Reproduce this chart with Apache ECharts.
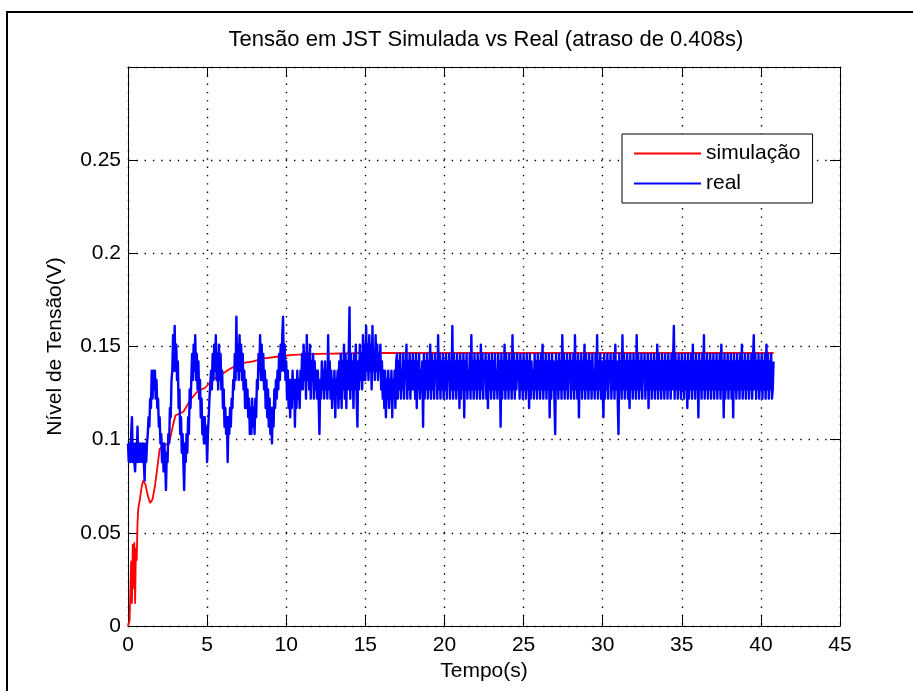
<!DOCTYPE html>
<html>
<head>
<meta charset="utf-8">
<script src="https://cdn.jsdelivr.net/npm/echarts@6/dist/echarts.min.js"></script>
<style>
html,body{margin:0;padding:0;background:#fff;}
#chart{width:913px;height:691px;}
</style>
</head>
<body>
<div id="chart"></div>
<script>
// ---------------- data ----------------
var titleText = 'Tensão em JST Simulada vs Real (atraso de 0.408s)';
var xName = 'Tempo(s)';
var yName = 'Nível de Tensão(V)';
var seriesNames = ['simulação', 'real'];

// simulated response (time in s, value in V)
var simTime = [0, 0.1, 0.2, 0.25, 0.3, 0.35, 0.4, 0.45, 0.5, 0.55, 0.6, 0.65, 0.75, 0.85, 0.95, 1.1, 1.25, 1.4, 1.55, 1.7, 1.9, 2.0, 2.3, 2.6, 2.85, 3.0, 3.5, 4.0, 4.4, 4.9, 5.3, 5.9, 6.45, 7.1, 7.9, 8.5, 9.4, 10.4, 12.1, 15, 20, 30, 40.8];
var simValues = [0, 0.003, 0.035, 0.012, 0.044, 0.02, 0.045, 0.012, 0.042, 0.035, 0.055, 0.063, 0.068, 0.074, 0.078, 0.076, 0.07, 0.066, 0.068, 0.075, 0.088, 0.095, 0.097, 0.098, 0.108, 0.113, 0.115, 0.122, 0.126, 0.128, 0.132, 0.135, 0.138, 0.141, 0.142, 0.1435, 0.1445, 0.1455, 0.146, 0.1465, 0.1465, 0.1465, 0.1465];

// measured signal, one sample every realStep seconds starting at 0 (one row per second)
var realStep = 0.05;
var realValues = [
0.098,0.088,0.098,0.088,0.103,0.112,0.088,0.098,0.088,0.083,0.098,0.088,0.107,0.088,0.098,0.088,0.098,0.093,0.088,0.098,
0.088,0.078,0.098,0.088,0.098,0.103,0.112,0.107,0.122,0.117,0.137,0.122,0.137,0.127,0.137,0.122,0.132,0.117,0.122,0.107,
0.112,0.098,0.103,0.088,0.098,0.083,0.098,0.088,0.073,0.093,0.088,0.103,0.098,0.117,0.112,0.132,0.137,0.156,0.137,0.161,
0.137,0.151,0.132,0.142,0.117,0.127,0.103,0.112,0.093,0.103,0.088,0.073,0.098,0.088,0.103,0.093,0.112,0.103,0.127,0.117,
0.132,0.146,0.132,0.151,0.137,0.156,0.132,0.146,0.127,0.142,0.122,0.132,0.112,0.122,0.103,0.112,0.098,0.112,0.098,0.107,
0.088,0.103,0.112,0.122,0.122,0.137,0.127,0.146,0.132,0.151,0.137,0.156,0.132,0.146,0.127,0.151,0.132,0.146,0.127,0.137,
0.117,0.127,0.107,0.117,0.103,0.112,0.088,0.112,0.103,0.117,0.107,0.122,0.117,0.132,0.127,0.146,0.132,0.166,0.137,0.151,
0.132,0.156,0.137,0.151,0.132,0.146,0.127,0.137,0.117,0.132,0.117,0.127,0.112,0.122,0.103,0.117,0.103,0.122,0.107,0.117,
0.103,0.122,0.112,0.132,0.127,0.146,0.137,0.156,0.132,0.151,0.132,0.146,0.127,0.137,0.117,0.132,0.112,0.127,0.107,0.122,
0.103,0.117,0.098,0.117,0.107,0.127,0.117,0.132,0.122,0.137,0.127,0.146,0.132,0.151,0.137,0.156,0.166,0.137,0.151,0.132,
0.142,0.122,0.137,0.117,0.132,0.112,0.132,0.117,0.137,0.122,0.132,0.107,0.132,0.117,0.137,0.122,0.132,0.117,0.137,0.127,
0.146,0.127,0.151,0.132,0.146,0.122,0.156,0.132,0.146,0.127,0.151,0.122,0.142,0.132,0.146,0.122,0.142,0.127,0.137,0.122,
0.137,0.122,0.103,0.132,0.122,0.142,0.127,0.137,0.122,0.142,0.127,0.137,0.122,0.156,0.127,0.142,0.122,0.137,0.117,0.132,
0.122,0.137,0.112,0.132,0.127,0.137,0.117,0.142,0.122,0.146,0.117,0.142,0.127,0.151,0.122,0.146,0.117,0.142,0.127,0.146,
0.171,0.122,0.146,0.127,0.142,0.117,0.146,0.127,0.151,0.122,0.107,0.142,0.127,0.151,0.132,0.146,0.127,0.156,0.132,0.151,
0.132,0.161,0.137,0.151,0.132,0.156,0.137,0.151,0.127,0.161,0.137,0.146,0.132,0.156,0.137,0.151,0.132,0.146,0.137,0.151,
0.127,0.142,0.122,0.137,0.117,0.137,0.112,0.132,0.122,0.137,0.117,0.132,0.122,0.137,0.112,0.132,0.122,0.137,0.117,0.142,
0.146,0.122,0.142,0.127,0.146,0.122,0.137,0.127,0.146,0.122,0.142,0.132,0.151,0.122,0.142,0.127,0.146,0.122,0.142,0.127,
0.146,0.127,0.142,0.122,0.146,0.117,0.142,0.127,0.146,0.122,0.137,0.127,0.142,0.107,0.146,0.122,0.142,0.127,0.146,0.122,
0.142,0.127,0.151,0.122,0.146,0.127,0.142,0.122,0.146,0.132,0.142,0.122,0.156,0.127,0.146,0.122,0.142,0.127,0.146,0.122,
0.142,0.127,0.146,0.122,0.142,0.132,0.146,0.122,0.142,0.127,0.161,0.122,0.146,0.127,0.142,0.122,0.146,0.127,0.142,0.117,
0.146,0.122,0.142,0.127,0.146,0.112,0.142,0.127,0.146,0.122,0.137,0.127,0.146,0.122,0.156,0.127,0.142,0.122,0.146,0.127,
0.142,0.122,0.146,0.127,0.142,0.122,0.151,0.127,0.146,0.122,0.142,0.132,0.146,0.122,0.142,0.117,0.146,0.127,0.142,0.122,
0.146,0.127,0.142,0.122,0.146,0.127,0.137,0.122,0.146,0.127,0.142,0.107,0.146,0.122,0.142,0.127,0.151,0.122,0.146,0.127,
0.142,0.122,0.146,0.127,0.142,0.122,0.156,0.127,0.146,0.122,0.142,0.127,0.146,0.132,0.142,0.122,0.146,0.127,0.142,0.122,
0.146,0.127,0.142,0.122,0.146,0.127,0.142,0.117,0.146,0.122,0.142,0.127,0.137,0.122,0.146,0.127,0.142,0.122,0.146,0.127,
0.142,0.122,0.146,0.127,0.151,0.122,0.142,0.127,0.146,0.122,0.142,0.127,0.146,0.112,0.142,0.122,0.146,0.127,0.142,0.122,
0.103,0.146,0.127,0.142,0.122,0.146,0.127,0.142,0.122,0.156,0.127,0.146,0.122,0.142,0.127,0.146,0.122,0.142,0.132,0.146,
0.122,0.142,0.127,0.146,0.122,0.156,0.127,0.142,0.122,0.146,0.112,0.142,0.127,0.146,0.122,0.142,0.127,0.151,0.122,0.146,
0.127,0.142,0.122,0.146,0.127,0.142,0.122,0.146,0.127,0.137,0.122,0.146,0.127,0.156,0.122,0.142,0.127,0.146,0.122,0.142,
0.127,0.112,0.146,0.122,0.142,0.127,0.146,0.122,0.142,0.132,0.146,0.122,0.142,0.127,0.146,0.122,0.151,0.127,0.142,0.122,
0.103,0.146,0.127,0.142,0.122,0.156,0.127,0.146,0.122,0.142,0.127,0.146,0.122,0.142,0.117,0.146,0.127,0.142,0.122,0.146,
0.127,0.142,0.122,0.156,0.127,0.146,0.122,0.142,0.127,0.146,0.122,0.142,0.132,0.146,0.122,0.142,0.127,0.146,0.117,0.142,
0.127,0.146,0.122,0.142,0.127,0.146,0.122,0.142,0.127,0.151,0.122,0.146,0.127,0.142,0.122,0.146,0.127,0.142,0.122,0.146,
0.127,0.142,0.122,0.146,0.127,0.142,0.122,0.146,0.127,0.142,0.161,0.122,0.146,0.127,0.142,0.122,0.146,0.127,0.142,0.122,
0.146,0.127,0.142,0.122,0.146,0.127,0.142,0.117,0.146,0.122,0.142,0.127,0.146,0.122,0.151,0.127,0.142,0.122,0.146,0.127,
0.142,0.112,0.146,0.127,0.142,0.122,0.146,0.127,0.156,0.122,0.142,0.127,0.146,0.122,0.142,0.127,0.146,0.122,0.142,0.127,
0.146,0.122,0.142,0.127,0.146,0.122,0.142,0.127,0.146,0.122,0.151,0.127,0.142,0.112,0.146,0.122,0.142,0.127,0.146,0.122,
0.142,0.127,0.146,0.122,0.142,0.112,0.146,0.127,0.142,0.122,0.146,0.127,0.142,0.122,0.146,0.127,0.151,0.122,0.142,0.127,
0.146,0.122,0.142,0.127,0.146,0.122,0.142,0.127,0.146,0.122,0.142,0.156,0.127,0.146,0.122,0.142,0.127,0.146,0.122,0.142,
0.127,0.146,0.122,0.142,0.127,0.146,0.122,0.151,0.127,0.146,0.122,0.142,0.127,0.146,0.122,0.127,0.142
];

// axes
var xMin = 0, xMax = 45, xInterval = 5;
var yMin = 0, yMax = 0.3, yInterval = 0.05;

// ---------------- build ----------------
var simData = simTime.map(function (t, i) { return [t, simValues[i]]; });
var realData = realValues.map(function (v, i) { return [+(i * realStep).toFixed(2), v]; });

var FONT = '"Liberation Sans", Arial, sans-serif';
var dotted = { color: '#000', width: 1.4, type: [1.4, 6.9] };

function yFmt(v) {
  if (v > 0.299) return '';
  return String(+v.toFixed(2));
}

var chart = echarts.init(document.getElementById('chart'), null, { renderer: 'canvas' });
chart.setOption({
  animation: false,
  backgroundColor: '#fff',
  textStyle: { fontFamily: FONT },
  title: {
    text: titleText,
    left: 486, textAlign: 'center',
    top: 29, padding: 0,
    textStyle: { fontFamily: FONT, fontSize: 22, fontWeight: 'normal', color: '#000' }
  },
  graphic: [{
    type: 'rect', silent: true, z: 100,
    shape: { x: 7, y: 12, width: 1200, height: 1200 },
    style: { fill: 'none', stroke: '#000', lineWidth: 2 }
  }],
  legend: {
    data: seriesNames,
    orient: 'vertical',
    left: 622, top: 134,
    padding: [9, 12, 9, 12],
    itemGap: 9,
    itemWidth: 67, itemHeight: 2,
    icon: 'rect',
    backgroundColor: '#fff',
    borderColor: '#000', borderWidth: 1,
    textStyle: { fontFamily: FONT, fontSize: 21, color: '#000', lineHeight: 21 }
  },
  grid: { left: 128, right: 73, top: 67, bottom: 65, containLabel: false },
  xAxis: [{
    type: 'value', min: xMin, max: xMax, interval: xInterval,
    name: xName, nameLocation: 'middle', nameGap: 35,
    nameTextStyle: { fontFamily: FONT, fontSize: 21, color: '#000' },
    axisLine: { show: true, onZero: false, lineStyle: { color: '#000', width: 1 } },
    axisTick: { show: true, inside: true, length: 10, lineStyle: { color: '#000' } },
    axisLabel: { fontFamily: FONT, fontSize: 21, color: '#000', margin: 9 },
    splitLine: { show: true, lineStyle: dotted }
  }, {
    type: 'value', min: xMin, max: xMax, interval: xInterval, position: 'top',
    axisLine: { show: true, onZero: false, lineStyle: { color: '#000', width: 1 } },
    axisTick: { show: true, inside: true, length: 10, lineStyle: { color: '#000' } },
    axisLabel: { show: false },
    splitLine: { show: false }
  }],
  yAxis: [{
    type: 'value', min: yMin, max: yMax, interval: yInterval,
    name: yName, nameLocation: 'middle', nameGap: 62, nameRotate: 90,
    nameTextStyle: { fontFamily: FONT, fontSize: 21, color: '#000' },
    axisLine: { show: true, onZero: false, lineStyle: { color: '#000', width: 1 } },
    axisTick: { show: true, inside: true, length: 10, lineStyle: { color: '#000' } },
    axisLabel: { fontFamily: FONT, fontSize: 21, color: '#000', margin: 7, formatter: yFmt },
    splitLine: { show: true, lineStyle: dotted }
  }, {
    type: 'value', min: yMin, max: yMax, interval: yInterval, position: 'right',
    axisLine: { show: true, onZero: false, lineStyle: { color: '#000', width: 1 } },
    axisTick: { show: true, inside: true, length: 10, lineStyle: { color: '#000' } },
    axisLabel: { show: false },
    splitLine: { show: false }
  }],
  series: [{
    name: seriesNames[0], type: 'line', data: simData,
    xAxisIndex: 0, yAxisIndex: 0,
    showSymbol: false, symbol: 'none',
    lineStyle: { color: '#ff0000', width: 1.8 },
    itemStyle: { color: '#ff0000' },
    z: 2
  }, {
    name: seriesNames[1], type: 'line', data: realData,
    xAxisIndex: 0, yAxisIndex: 0,
    showSymbol: false, symbol: 'none', sampling: null,
    lineStyle: { color: '#0000ff', width: 2.4, join: 'round' },
    itemStyle: { color: '#0000ff' },
    z: 3
  }]
});
</script>
</body>
</html>
